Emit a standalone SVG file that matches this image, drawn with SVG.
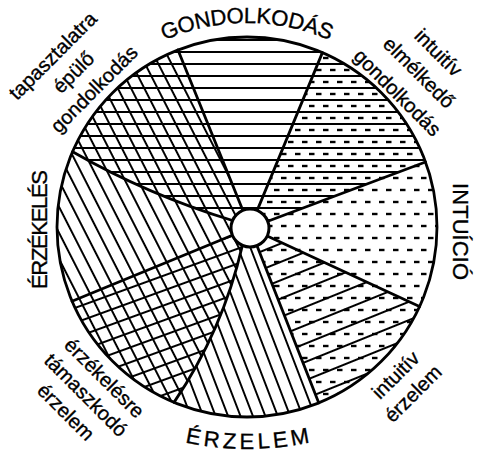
<svg xmlns="http://www.w3.org/2000/svg" width="481" height="453" viewBox="0 0 481 453">
<style>
.h{stroke:#000;stroke-width:1.9}
.b{fill:none;stroke:#000;stroke-width:2.8;stroke-linecap:round}
.cap{font-family:"Liberation Sans",Arial,sans-serif;font-size:22px;fill:#000;stroke:#000;stroke-width:0.35}
.low{font-family:"Liberation Sans",Arial,sans-serif;font-size:20px;fill:#000;stroke:#000;stroke-width:0.35;text-anchor:middle}
</style>
<defs>
<pattern id="hz" patternUnits="userSpaceOnUse" width="40" height="12"><line class="h" x1="0" y1="4" x2="40" y2="4"/></pattern>
<pattern id="dash" patternUnits="userSpaceOnUse" width="28" height="24"><rect x="1" y="8.8" width="5.5" height="2.4"/><rect x="15" y="8.8" width="5.5" height="2.4"/><rect x="8" y="20.8" width="5.5" height="2.4"/><rect x="22" y="20.8" width="5.5" height="2.4"/></pattern>
<pattern id="sk" patternUnits="userSpaceOnUse" width="40" height="11.8" patternTransform="rotate(63)"><line class="h" x1="0" y1="5.9" x2="40" y2="5.9"/></pattern>
<pattern id="em" patternUnits="userSpaceOnUse" width="40" height="11.6" patternTransform="rotate(69)"><line class="h" x1="0" y1="5.8" x2="40" y2="5.8"/></pattern>
<pattern id="gp" patternUnits="userSpaceOnUse" width="40" height="14" patternTransform="rotate(-20)"><line class="h" x1="0" y1="7" x2="40" y2="7"/></pattern>
<pattern id="ie" patternUnits="userSpaceOnUse" width="40" height="17" patternTransform="rotate(-22)"><line class="h" x1="0" y1="8" x2="40" y2="8"/></pattern>
<path id="arcTop" d="M42,228 A205,205 0 0 1 452,228"/>
<path id="arcBot" d="M130,425 A300,300 0 0 0 365,425"/>
</defs>
<rect width="481" height="453" fill="#fff"/>

<g id="gondolkodas">
<path d="M250,228 L178,49.9 A190,190 0 0 1 322.4,52.6 Z" fill="url(#hz)"/>
<text class="cap"><textPath href="#arcTop" startOffset="50%" text-anchor="middle" textLength="170">GONDOLKODÁS</textPath></text>
</g>
<g id="intuitiv-elmelkedo-gondolkodas">
<path d="M250,228 L322.4,52.6 A190,190 0 0 1 425.5,162 Z" fill="url(#hz)"/>
<path d="M250,228 L322.4,52.6 A190,190 0 0 1 425.5,162 Z" fill="url(#dash)"/>
<text class="low" transform="translate(433.6,57.4) rotate(45)">intuitív</text>
<text class="low" transform="translate(414.1,77.4) rotate(45)">elmélkedő</text>
<text class="low" transform="translate(392.6,97.4) rotate(45)">gondolkodás</text>
</g>
<g id="intuicio">
<path d="M250,228 L425.5,162 A190,190 0 0 1 419.5,306.6 Z" fill="url(#dash)"/>
<text class="cap" text-anchor="middle" textLength="97" transform="translate(453,231.5) rotate(90)">INTUÍCIÓ</text>
</g>
<g id="intuitiv-erzelem">
<path d="M250,228 L419.5,306.6 A190,190 0 0 1 318.8,402.9 Z" fill="url(#ie)"/>
<path d="M250,228 L419.5,306.6 A190,190 0 0 1 318.8,402.9 Z" fill="url(#dash)"/>
<text class="low" transform="translate(400.4,379.9) rotate(-45)">intuitív</text>
<text class="low" transform="translate(417.9,398.4) rotate(-45)">érzelem</text>
</g>
<g id="erzelem">
<path d="M250,228 L318.8,402.9 A190,190 0 0 1 174,402.4 Q222.9,330.3 242.4,245.4 Z" fill="url(#em)"/>
<text class="cap"><textPath href="#arcBot" startOffset="50%" text-anchor="middle" textLength="126">ÉRZELEM</textPath></text>
</g>
<g id="erzekelesre-tamaszkodo-erzelem">
<path d="M250,228 L242.4,245.4 Q222.9,330.3 174,402.4 A190,190 0 0 1 72,301.2 Z" fill="url(#sk)"/>
<path d="M250,228 L242.4,245.4 Q222.9,330.3 174,402.4 A190,190 0 0 1 72,301.2 Z" fill="url(#gp)"/>
<text class="low" transform="translate(99.6,382.9) rotate(45)">érzékelésre</text>
<text class="low" transform="translate(81.1,399.9) rotate(45)">támaszkodó</text>
<text class="low" transform="translate(61.1,416.9) rotate(45)">érzelem</text>
</g>
<g id="erzekeles">
<path d="M250,228 L72,301.2 A190,190 0 0 1 72.6,151.8 Q148.6,195.3 232.5,220.5 Z" fill="url(#sk)"/>
<text class="cap" text-anchor="middle" textLength="119" transform="translate(47,229.5) rotate(-90)">ÉRZÉKELÉS</text>
</g>
<g id="tapasztalatra-epulo-gondolkodas">
<path d="M250,228 L232.5,220.5 Q148.6,195.3 72.6,151.8 A190,190 0 0 1 178,49.9 Z" fill="url(#sk)"/>
<path d="M250,228 L232.5,220.5 Q148.6,195.3 72.6,151.8 A190,190 0 0 1 178,49.9 Z" fill="url(#hz)"/>
<text class="low" transform="translate(57.6,60.6) rotate(-45)">tapasztalatra</text>
<text class="low" transform="translate(78.2,77.2) rotate(-45)">épülő</text>
<text class="low" transform="translate(98.9,93.9) rotate(-45)">gondolkodás</text>
</g>

<g id="connectors">
<path class="b" d="M257.2,210.4 L322.4,52.6"/>
<path class="b" d="M267.8,221.3 L425.5,162"/>
<path class="b" d="M267.2,236 L419.5,306.6"/>
<path class="b" d="M257,245.7 L318.8,402.9"/>
<path class="b" d="M242.4,245.4 Q222.9,330.3 174,402.4"/>
<path class="b" d="M232.4,235.2 L72,301.2"/>
<path class="b" d="M232.5,220.5 Q148.6,195.3 72.6,151.8"/>
<path class="b" d="M242.9,210.4 L178,49.9"/>
<circle cx="247" cy="227" r="190" fill="none" stroke="#000" stroke-width="2.8"/>
</g>
<g id="hub">
<circle cx="250" cy="228" r="19" fill="#fff" stroke="#000" stroke-width="3"/>
</g>
</svg>
